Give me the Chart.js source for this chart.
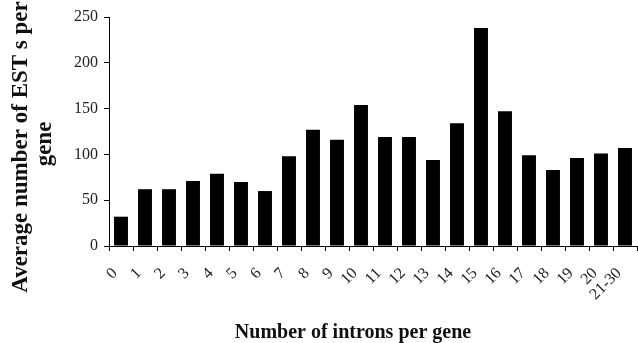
<!DOCTYPE html>
<html lang="en">
<head>
    <meta charset="UTF-8">
    <title>ESTs per gene</title>
    <script src="https://cdn.jsdelivr.net/npm/chart.js"></script>
    <style>
        html, body { margin: 0; padding: 0; background: #fff; }
        #wrap { width: 638px; height: 343px; position: relative; }
    </style>
</head>
<body>
    <div id="wrap"><canvas id="chart"></canvas></div>

    <script>
        // data
        const intronCounts = ['0', '1', '2', '3', '4', '5', '6', '7', '8', '9', '10',
            '11', '12', '13', '14', '15', '16', '17', '18', '19', '20', '21-30'];
        const avgEsts = [32, 62, 62, 71, 79, 70, 60, 98, 127, 116, 154,
            119, 119, 94, 134, 238, 147, 99, 83, 96, 101, 107];
        const yTicks = [0, 50, 100, 150, 200, 250];

        const serif = "'Liberation Serif', 'Times New Roman', serif";

        // axis titles drawn by hand so they sit where the original has them
        const titles = {
            id: 'titles',
            afterDraw(chart) {
                const ctx = chart.ctx;
                ctx.save();
                ctx.fillStyle = '#111';
                ctx.font = 'bold 23px ' + serif;
                ctx.textAlign = 'center';
                ctx.textBaseline = 'alphabetic';
                ctx.save();
                ctx.translate(27, 147);
                ctx.rotate(-Math.PI / 2);
                ctx.fillText('Average number of EST s per', 0, 0);
                ctx.restore();
                ctx.save();
                ctx.translate(51, 144);
                ctx.rotate(-Math.PI / 2);
                ctx.fillText('gene', 0, 0);
                ctx.restore();

                ctx.font = 'bold 20px ' + serif;
                ctx.fillText('Number of introns per gene', 353, 338);
                ctx.restore();
            }
        };

        new Chart(document.getElementById('chart'), {
            type: 'bar',
            data: {
                labels: intronCounts,
                datasets: [{
                    data: avgEsts,
                    backgroundColor: '#000',
                    borderWidth: 0,
                    barPercentage: 0.58,
                    categoryPercentage: 1
                }]
            },
            options: {
                responsive: true,
                maintainAspectRatio: false,
                animation: false,
                layout: { padding: { top: 17, right: 1, left: 0, bottom: 0 } },
                plugins: {
                    legend: { display: false },
                    tooltip: { enabled: false }
                },
                scales: {
                    x: {
                        grid: { drawOnChartArea: false, offset: true, tickLength: 5, color: '#000' },
                        border: { color: '#000', width: 1 },
                        ticks: {
                            color: '#222',
                            font: { family: serif, size: 16 },
                            minRotation: 45,
                            maxRotation: 45,
                            autoSkip: false,
                            labelOffset: -6,
                            padding: 13
                        },
                        afterFit(scale) {
                            scale.height = 97;
                            scale.paddingLeft = 0;
                            scale.paddingRight = 0;
                        }
                    },
                    y: {
                        min: 0,
                        max: 250,
                        afterBuildTicks(scale) { scale.ticks = yTicks.map(v => ({ value: v })); },
                        grid: { drawOnChartArea: false, tickLength: 5, color: '#000' },
                        border: { color: '#000', width: 1 },
                        ticks: {
                            color: '#222',
                            font: { family: serif, size: 16 },
                            padding: 6
                        },
                        afterFit(scale) { scale.width = 109; }
                    }
                }
            },
            plugins: [titles]
        });
    </script>
</body>
</html>
